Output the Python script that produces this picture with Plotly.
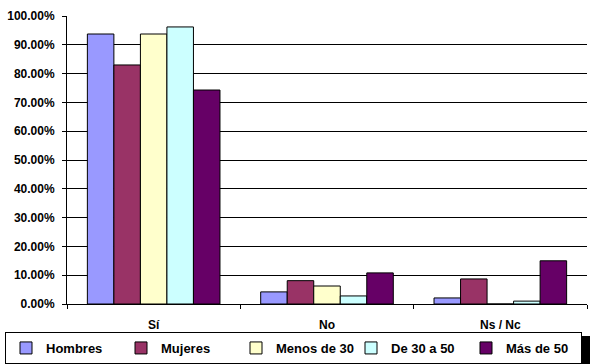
import plotly.graph_objects as go

categories = ["Sí", "No", "Ns / Nc"]
series_names = ["Hombres", "Mujeres", "Menos de 30", "De 30 a 50", "Más de 50"]
hombres = [93.75, 4.2, 2.1]
mujeres = [83.0, 8.1, 8.7]
menos_30 = [93.75, 6.25, 0.0]
de_30_50 = [96.2, 2.8, 1.0]
mas_50 = [74.3, 10.8, 15.0]
y_ticks = [0, 10, 20, 30, 40, 50, 60, 70, 80, 90, 100]
y_tick_labels = [f"{v:.2f}%" for v in y_ticks]
colors = ["#9999FF", "#993366", "#FFFFCC", "#CCFFFF", "#660066"]

W, H = 593, 364
L, R, T, B = 67, 6, 16, 60
pw, ph = W - L - R, H - T - B

def px_x(px):
    return (px - L) / pw

def px_y(py):
    return (H - B - py) / ph

fig = go.Figure()
for name, vals, col in zip(series_names, [hombres, mujeres, menos_30, de_30_50, mas_50], colors):
    fig.add_trace(go.Bar(
        x=categories, y=vals, name=name,
        marker=dict(color=col, line=dict(color="black", width=1)),
    ))

FAM = "Liberation Sans, Arial, sans-serif"

fig.update_layout(
    width=W, height=H,
    margin=dict(l=L, r=R, t=T, b=B, pad=0, autoexpand=False),
    paper_bgcolor="white", plot_bgcolor="white",
    barmode="group", bargap=0.235, bargroupgap=0,
    font=dict(family=FAM, color="black", size=12, weight=700),
    showlegend=True,
    legend=dict(
        orientation="h",
        x=px_x(5), y=px_y(332), xanchor="left", yanchor="top",
        bgcolor="white", bordercolor="black", borderwidth=1,
        font=dict(family=FAM, color="black", size=13, weight=700),
        entrywidth=70, entrywidthmode="pixels",
        traceorder="normal",
    ),
    xaxis=dict(
        range=[-0.5, 2.5], showline=True, linecolor="black", linewidth=1,
        ticks="outside", tickson="boundaries", ticklen=4, tickcolor="black",
        showgrid=False, ticklabelstandoff=10,
        tickfont=dict(family=FAM, color="black", size=12, weight=700),
    ),
    yaxis=dict(
        range=[0, 100], tickvals=y_ticks, ticktext=y_tick_labels,
        showline=True, linecolor="black", linewidth=1,
        ticks="outside", ticklen=4, tickcolor="black",
        showgrid=True, gridcolor="black", gridwidth=1, zeroline=False,
        ticklabelstandoff=5,
        tickfont=dict(family=FAM, color="black", size=12, weight=700),
    ),
    shapes=[dict(
        type="rect", xref="paper", yref="paper",
        x0=px_x(8), x1=px_x(590), y0=px_y(364), y1=px_y(336),
        fillcolor="black", line=dict(width=0), layer="above",
    )],
)

fig.write_html("out.html", config={"displayModeBar": False},
               post_script="document.body.style.margin='0';")
